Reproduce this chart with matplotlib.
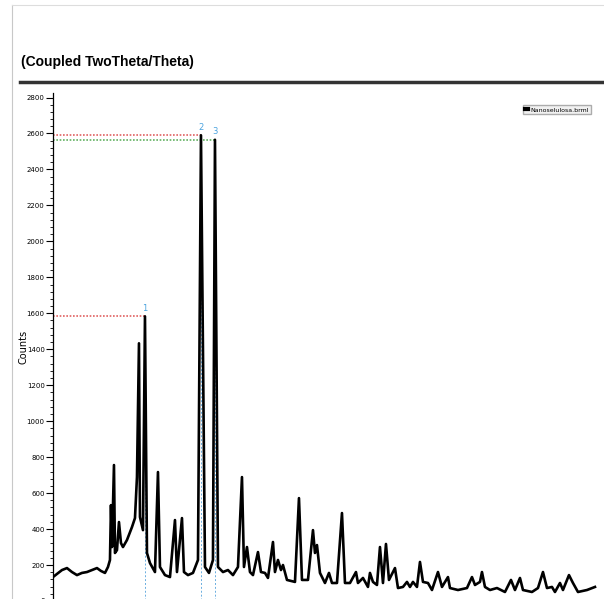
import numpy as np
from matplotlib import pyplot as plt
from matplotlib.lines import Line2D

#============================================================================
# Difratograma (Coupled TwoTheta/Theta)
#============================================================================
two_theta = [5.0, 5.4, 5.9, 6.4, 6.9, 7.4, 7.9, 8.4, 8.9, 9.4, 9.8, 10.2, 10.5,
             10.7, 10.8, 10.9, 11.1, 11.2, 11.4, 11.6, 11.8, 12.0, 12.4, 12.9,
             13.2, 13.4, 13.6, 13.7, 14.0, 14.2, 14.4, 14.7, 15.2, 15.5, 15.7,
             16.2, 16.7, 17.2, 17.4, 17.9, 18.1, 18.5, 19.0, 19.5, 19.8, 20.2,
             20.6, 21.0, 21.2, 21.5, 22.0, 22.5, 23.0, 23.5, 23.9, 24.1, 24.4,
             24.7, 25.0, 25.5, 25.8, 26.2, 26.5, 27.0, 27.2, 27.5, 27.8, 28.0,
             28.4, 29.2, 29.6, 29.9, 30.5, 31.0, 31.2, 31.4, 31.7, 32.2, 32.6,
             32.9, 33.4, 33.9, 34.2, 34.7, 35.3, 35.5, 36.0, 36.5, 36.7, 37.0,
             37.4, 37.7, 38.0, 38.3, 38.6, 39.2, 39.5, 40.0, 40.4, 40.7, 41.0,
             41.4, 41.7, 42.0, 42.5, 42.9, 43.5, 43.9, 44.5, 44.7, 45.5, 46.4,
             46.9, 47.2, 47.7, 47.9, 48.2, 48.7, 49.4, 50.2, 50.8, 51.2, 51.7,
             52.0, 52.9, 53.5, 54.0, 54.4, 54.9, 55.2, 55.7, 56.0, 56.6, 57.0,
             57.5, 58.4, 59.2]
counts = [133, 150, 172, 183, 161, 144, 156, 161, 172, 183, 167, 156, 189,
          228, 533, 300, 756, 267, 283, 439, 322, 300, 339, 411,
          461, 689, 1433, 467, 394, 1583, 267, 211, 161, 717, 189,
          144, 133, 450, 161, 461, 161, 144, 156, 228, 2590, 189,
          156, 228, 2565, 189, 161, 172, 144, 189, 689, 189, 300,
          161, 144, 272, 161, 156, 128, 328, 161, 228, 172, 200,
          117, 106, 572, 117, 117, 394, 267, 311, 156, 100, 156,
          100, 100, 489, 100, 100, 161, 100, 128, 78, 156, 106,
          89, 300, 100, 317, 117, 183, 72, 78, 106, 78, 106,
          78, 217, 106, 100, 61, 161, 78, 133, 72, 61, 72,
          133, 89, 106, 161, 78, 61, 72, 50, 117, 61, 128,
          61, 50, 72, 161, 72, 78, 50, 100, 61, 144, 100,
          50, 61, 78]

# picos marcados
pico_pos = [14.2, 19.8, 21.2]
pico_alt = [1583, 2590, 2565]
pico_lab = ['1', '2', '3']
pico_cor = ['#e06060', '#e06060', '#60b060']

fig = plt.figure(figsize=(6.04, 5.99), dpi=100)
ax = fig.add_axes([0.0877, -0.0033, 0.9106, 0.848])

for p, h, c in zip(pico_pos, pico_alt, pico_cor):
    ax.vlines(p, 0, h, colors='#6aaee0', linestyles=(0, (2, 2)), linewidth=0.7, zorder=1)
    ax.hlines(h, 5, p, colors=c, linestyles=(0, (1, 1)), linewidth=1.2, zorder=1)
for p, h, l in zip(pico_pos, pico_alt, pico_lab):
    ax.text(p, h + 20, l, color='#4aa3df', fontsize=6, ha='center', va='bottom')

ax.plot(two_theta, counts, color='black', linewidth=1.9, zorder=3,
        label='Nanoselulosa.brml')

ax.set_xlim(5, 60)
ax.set_ylim(0, 2825)
ax.set_yticks(np.arange(0, 2801, 200))
ax.set_yticks(np.arange(0, 2801, 40), minor=True)
ax.tick_params(axis='y', which='major', labelsize=5, length=5, width=0.8, pad=1)
ax.tick_params(axis='y', which='minor', length=2.5, width=0.6)
ax.set_xticks([])
ax.set_ylabel('Counts', fontsize=7, labelpad=-1)
for s in ['top', 'right', 'bottom']:
    ax.spines[s].set_visible(False)
ax.spines['left'].set_linewidth(0.9)

leg = ax.legend(loc='upper right', bbox_to_anchor=(0.984, 0.982), fontsize=4.5,
                handlelength=0.4, handletextpad=0.5, borderpad=0.3,
                frameon=True, fancybox=False, edgecolor='#999999')
leg.get_frame().set_facecolor('#eeeeee')
leg.get_lines()[0].set_linewidth(3)

fig.text(0.035, 0.896, '(Coupled TwoTheta/Theta)', fontsize=10, fontweight='bold',
         family='Liberation Sans', va='center')
fig.add_artist(Line2D([0.033, 1.0], [0.863, 0.863], color='#333333', linewidth=2.5))
fig.add_artist(Line2D([0.02, 0.02], [0.0, 0.992], color='#c8c8c8', linewidth=0.8))
fig.add_artist(Line2D([0.02, 1.0], [0.992, 0.992], color='#dddddd', linewidth=0.8))

plt.savefig('out.png', dpi=100)
